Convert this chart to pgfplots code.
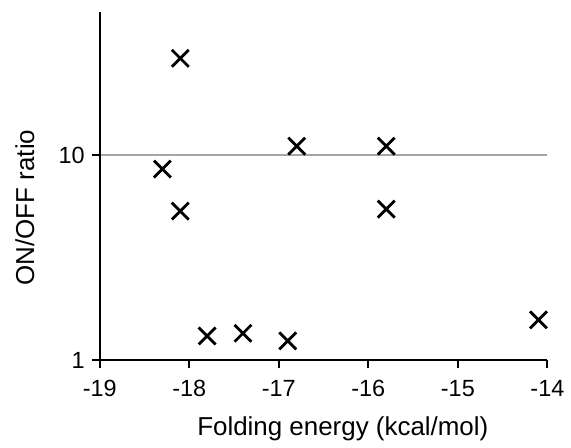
\documentclass[border=0pt]{standalone}
\usepackage{fontspec}
\setmainfont{Liberation Sans}
\usepackage{pgfplots}
\pgfplotsset{compat=1.18}
\usetikzlibrary{calc}

\begin{document}
\begin{tikzpicture}
\begin{axis}[
  width=224.5pt, height=174.5pt,
  scale only axis,
  xmin=-19, xmax=-14,
  ymode=log, ymin=1, ymax=50,
  xtick={-19,-18,...,-14},
  minor ytick={},
  axis lines=left,
  axis line style={-, line width=1pt, black},
  tick align=outside,
  major tick length=4pt,
  tick style={line width=1pt, black},
  ymajorgrids, ytick={10}, yticklabels={10},
  extra y ticks={1}, extra y tick style={grid=none},
  extra y tick labels={1},
  grid style={line width=0.7pt, gray!70},
  /pgf/number format/assume math mode=true,
  ticklabel style={font=\fontsize{11.75}{14}\selectfont},
  xticklabel style={yshift=-2.5pt},
  label style={font=\fontsize{13}{15}\selectfont},
  xlabel={Folding energy (kcal/mol)},
  ylabel={ON/OFF ratio},
  xlabel style={at={(rel axis cs:0.543,0)}, anchor=center, yshift=-34.5pt},
  ylabel style={at={($(rel axis cs:0,0.438)+(-37.5pt,0)$)}, anchor=center},
  clip=false,
]
\addplot[only marks, mark=x, mark size=6pt, line width=1.4pt, black]
coordinates {
(-18.1,29.7) (-18.3,8.55) (-18.1,5.33) (-17.8,1.31) (-17.4,1.35)
(-16.9,1.24) (-14.1,1.57) (-16.8,11.06) (-15.8,11.06) (-15.8,5.45)
};
\path ($(rel axis cs:0,0)+(-50pt,-44pt)$) rectangle ($(rel axis cs:1,1)+(11pt,6pt)$);
\end{axis}
\end{tikzpicture}
\end{document}
